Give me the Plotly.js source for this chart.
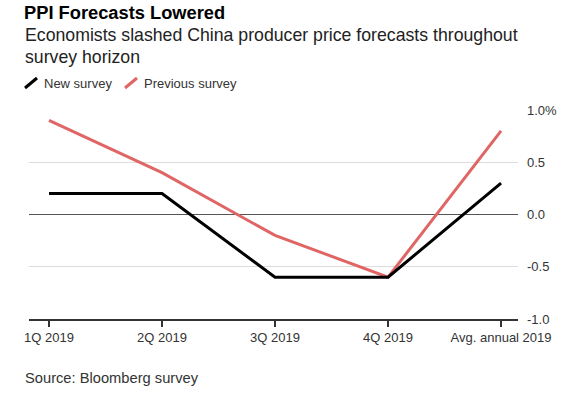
<!DOCTYPE html>
<html>
<head>
<meta charset="utf-8">
<script src="https://cdn.plot.ly/plotly-3.0.1.min.js"></script>
<style>html,body{margin:0;padding:0;background:#fff;}#chart{width:572px;height:401px;}</style>
</head>
<body>
<div id="chart"></div>
<script>
const categories = ["1Q 2019", "2Q 2019", "3Q 2019", "4Q 2019", "Avg. annual 2019"];
const newSurvey = [0.2, 0.2, -0.6, -0.6, 0.3];
const previousSurvey = [0.9, 0.4, -0.2, -0.6, 0.8];
const yTickVals = [-1.0, -0.5, 0.0, 0.5, 1.0];
const yTickText = ["-1.0", "-0.5", "0.0", "0.5", "1.0%"];

const W = 572, H = 401;
const M = {l: 29, r: 54, t: 110, b: 82};
const pw = W - M.l - M.r, ph = H - M.t - M.b;
const px = x => (x - M.l) / pw;
const py = y => (H - M.b - y) / ph;

const FONT = "Liberation Sans, Arial, Helvetica, sans-serif";

const traces = [
  {x: categories, y: previousSurvey, name: "Previous survey", type: "scatter", mode: "lines",
   line: {color: "#e06666", width: 3}, cliponaxis: false},
  {x: categories, y: newSurvey, name: "New survey", type: "scatter", mode: "lines",
   line: {color: "#000000", width: 3}, cliponaxis: false}
];

const layout = {
  width: W, height: H,
  margin: M,
  paper_bgcolor: "#fff", plot_bgcolor: "#fff",
  showlegend: false,
  font: {family: FONT, color: "#333", size: 13},
  title: {text: "<b>PPI Forecasts Lowered</b>", font: {family: FONT, size: 18.3, color: "#000"},
          xref: "container", yref: "container", x: 24 / W, xanchor: "left", y: 1 - 13 / H, yanchor: "middle"},
  xaxis: {type: "category", range: [-0.177, 4.15], showgrid: false, zeroline: false,
          showline: true, linecolor: "#333", linewidth: 1.5,
          ticks: "outside", ticklen: 6, tickcolor: "#333", tickwidth: 1.2,
          tickfont: {size: 13, color: "#333"}, fixedrange: true},
  yaxis: {range: [-1, 1], side: "right", tickvals: yTickVals, ticktext: yTickText,
          showgrid: true, gridcolor: "#dcdcdc", gridwidth: 1,
          zeroline: true, zerolinecolor: "#555", zerolinewidth: 1,
          ticks: "", ticklabelstandoff: 8, tickfont: {size: 13, color: "#333"}, fixedrange: true},
  annotations: [
    {text: "Economists slashed China producer price forecasts throughout", xref: "paper", yref: "paper",
     x: px(23), y: py(35), xanchor: "left", yanchor: "middle", showarrow: false,
     font: {size: 17.7, color: "#222"}},
    {text: "survey horizon", xref: "paper", yref: "paper",
     x: px(23), y: py(57), xanchor: "left", yanchor: "middle", showarrow: false,
     font: {size: 17.7, color: "#222"}},
    {text: "New survey", xref: "paper", yref: "paper",
     x: px(42), y: py(83), xanchor: "left", yanchor: "middle", showarrow: false,
     font: {size: 13, color: "#333"}},
    {text: "Previous survey", xref: "paper", yref: "paper",
     x: px(142), y: py(83), xanchor: "left", yanchor: "middle", showarrow: false,
     font: {size: 13, color: "#333"}},
    {text: "Source: Bloomberg survey", xref: "paper", yref: "paper",
     x: px(23), y: py(378), xanchor: "left", yanchor: "middle", showarrow: false,
     font: {size: 14.7, color: "#333"}}
  ],
  shapes: [
    {type: "line", xref: "paper", yref: "paper", x0: px(25), y0: py(88), x1: px(37), y1: py(78),
     line: {color: "#000", width: 3}},
    {type: "line", xref: "paper", yref: "paper", x0: px(125), y0: py(88), x1: px(137), y1: py(78),
     line: {color: "#e06666", width: 3}}
  ]
};

Plotly.newPlot("chart", traces, layout, {displayModeBar: false, staticPlot: true});
</script>
</body>
</html>
